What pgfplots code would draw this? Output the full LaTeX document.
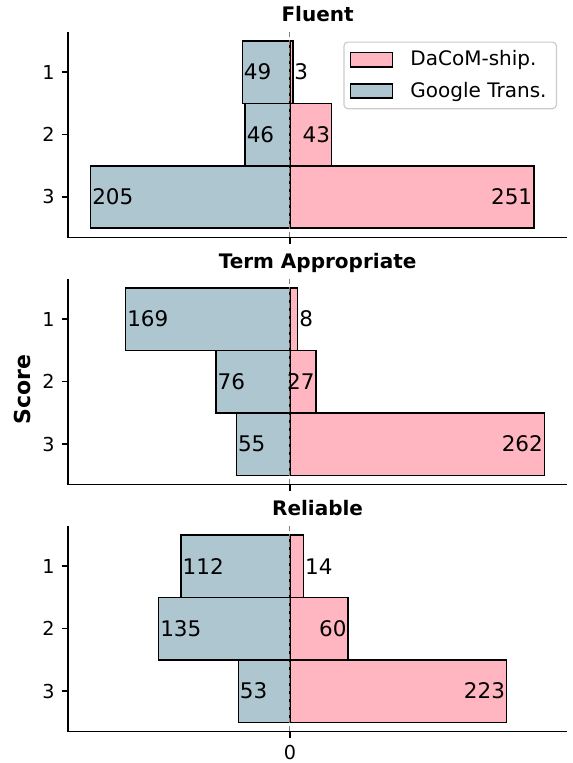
\documentclass[border=0pt]{standalone}
\usepackage{fontspec}
\setmainfont{DejaVu Sans}
\usepackage{pgfplots}
\pgfplotsset{compat=1.18}
\definecolor{dpink}{RGB}{255,182,193}
\definecolor{gblue}{RGB}{174,198,207}
\definecolor{legframe}{RGB}{204,204,204}
\pgfplotsset{
  myaxis/.style={
    scale only axis, width=249.5pt, height=103pt,
    xmin=-228.35, xmax=285.35, ymin=0.35, ymax=3.65, y dir=reverse,
    axis x line*=bottom, axis y line*=left,
    axis line style={line width=0.8pt, black},
    ytick={1,2,3}, xtick={0},
    tick align=outside, major tick length=3.2pt,
    tick style={black, line width=0.8pt},
    tick label style={font=\fontsize{9.6}{11}\selectfont},
    /pgf/number format/assume math mode=true,
    title style={font=\bfseries\fontsize{10}{12}\selectfont, at={(0.5,1)}, anchor=base, yshift=-0.9pt, inner sep=0pt},
    clip=false,
  },
  gbar/.style={xbar, bar width=1, bar shift=0pt, fill=gblue, draw=black, line width=0.75pt, forget plot},
  pbar/.style={xbar, bar width=1, bar shift=0pt, fill=dpink, draw=black, line width=0.75pt, forget plot},
  zline/.style={gray, dash pattern=on 2.6pt off 1.4pt, line width=0.6pt, forget plot},
  lblW/.style={only marks, mark=*, mark size=0pt, mark options={draw=none, fill=none}, forget plot,
    nodes near coords, point meta=explicit symbolic,
    every node near coord/.style={anchor=west, inner xsep=0.6pt, text=black, font=\fontsize{10.75}{12}\selectfont}},
  lblE/.style={only marks, mark=*, mark size=0pt, mark options={draw=none, fill=none}, forget plot,
    nodes near coords, point meta=explicit symbolic,
    every node near coord/.style={anchor=east, inner xsep=0.6pt, text=black, font=\fontsize{10.75}{12}\selectfont}},
}
\begin{document}
\begin{tikzpicture}
\useasboundingbox (-34pt,-15.65pt) rectangle (252pt,365.75pt);
% ---------- Fluent ----------
\begin{axis}[myaxis, at={(0,247pt)}, anchor=south west, title={Fluent}, xticklabels={},
  legend style={at={(0.98,0.9515)}, anchor=north east, draw=legframe, rounded corners=2pt,
    line width=0.6pt, font=\fontsize{10}{12}\selectfont, row sep=2.5pt, inner xsep=3pt, inner ysep=2.3pt,
    /tikz/every odd column/.append style={column sep=6.5pt}},
  legend cell align=left,
  legend image code/.code={\draw[#1, sharp corners] (1pt,-3.6pt) rectangle (22pt,3.6pt);}]
\addlegendimage{fill=dpink, draw=black, line width=0.75pt}
\addlegendentry{DaCoM-ship.}
\addlegendimage{fill=gblue, draw=black, line width=0.75pt}
\addlegendentry{Google Trans.}
\addplot[pbar] coordinates {(3,1) (43,2) (251,3)};
\addplot[gbar] coordinates {(-49,1) (-46,2) (-205,3)};
\addplot[zline] coordinates {(0,0.35) (0,3.65)};
\addplot[lblW] coordinates {(-49,1)[49] (-46,2)[46] (-205,3)[205] (3,1)[3]};
\addplot[lblE] coordinates {(43,2)[43] (251,3)[251]};
\end{axis}
% ---------- Term Appropriate ----------
\begin{axis}[myaxis, at={(0,123.5pt)}, anchor=south west, title={Term Appropriate}, xticklabels={},
  ylabel={Score}, ylabel style={font=\bfseries\fontsize{11}{13}\selectfont, at={(axis description cs:-0.0922,0.46)}, anchor=center}]
\addplot[pbar] coordinates {(8,1) (27,2) (262,3)};
\addplot[gbar] coordinates {(-169,1) (-76,2) (-55,3)};
\addplot[zline] coordinates {(0,0.35) (0,3.65)};
\addplot[lblW] coordinates {(-169,1)[169] (-76,2)[76] (-55,3)[55] (8,1)[8]};
\addplot[lblE] coordinates {(27,2)[27] (262,3)[262]};
\end{axis}
% ---------- Reliable ----------
\begin{axis}[myaxis, at={(0,0pt)}, anchor=south west, title={Reliable}]
\addplot[pbar] coordinates {(14,1) (60,2) (223,3)};
\addplot[gbar] coordinates {(-112,1) (-135,2) (-53,3)};
\addplot[zline] coordinates {(0,0.35) (0,3.65)};
\addplot[lblW] coordinates {(-112,1)[112] (-135,2)[135] (-53,3)[53] (14,1)[14]};
\addplot[lblE] coordinates {(60,2)[60] (223,3)[223]};
\end{axis}
\end{tikzpicture}
\end{document}
